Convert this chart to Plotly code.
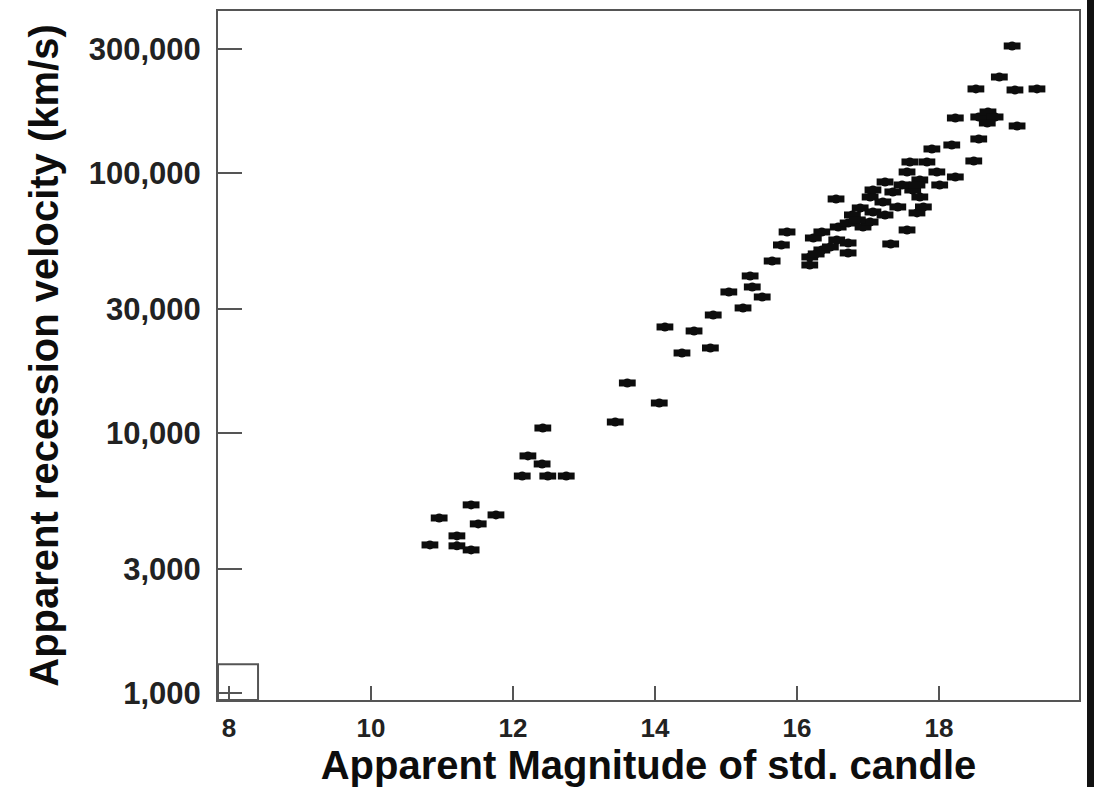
import plotly.graph_objects as go

# Apparent magnitude of the standard candle and apparent recession velocity (km/s)
magnitude = [
    10.83, 10.96, 11.21, 11.21, 11.41, 11.41, 11.51, 11.76,
    12.13, 12.21, 12.41, 12.42, 12.49, 12.75,
    13.44, 13.61, 14.06, 14.14, 14.38, 14.55, 14.78, 14.82, 15.04, 15.24,
    15.34, 15.37, 15.51, 15.65, 15.78, 15.86,
    16.18, 16.18, 16.23, 16.35, 16.35, 16.47, 16.55, 16.56, 16.58, 16.72,
    16.72, 16.72, 16.78, 16.89, 16.93, 17.03, 17.07, 17.03, 17.07, 17.21,
    17.24, 17.24, 17.35, 17.42, 17.32, 17.55, 17.69, 17.78, 17.55, 17.59,
    17.63, 17.73, 17.73, 17.83, 17.97, 18.01, 18.23, 17.90, 18.18, 18.49,
    18.23, 18.56, 18.56, 18.69, 18.79, 18.68, 19.10, 18.52, 18.85, 19.07,
    19.38, 19.03,
    16.27, 16.85, 17.48, 17.69,
]
velocity = [
    3710, 4710, 4020, 3680, 3550, 5290, 4470, 4840,
    6830, 8160, 7600, 10450, 6830, 6830,
    11020, 15570, 13040, 25570, 20310, 24680, 21230, 28430, 34860, 30260,
    40170, 36440, 33350, 45860, 52860, 59310,
    44270, 47530, 56230, 59310, 50560, 51930, 79430, 55240, 61980, 64200,
    53800, 49250, 68940, 73360, 61980, 64770, 70790, 80850, 86020, 77350,
    68940, 92350, 84520, 74010, 53330, 60370, 70200, 74010, 100890, 110240,
    86020, 94000, 80850, 110240, 100890, 89920, 96520, 123690, 128130, 111220,
    162750, 135130, 164200, 171630, 164200, 155690, 151620, 210490, 233960, 208590,
    210490, 307900,
    48820, 65960, 89920, 89920,
]

x_ticks = [8, 10, 12, 14, 16, 18]
y_ticks = [1000, 3000, 10000, 30000, 100000, 300000]
y_tick_text = ["1,000", "3,000", "10,000", "30,000", "100,000", "300,000"]

FONT = "Liberation Sans, Arial, Helvetica, sans-serif"
AXIS_GREY = "#555555"
INK = "#0d0d0d"

fig = go.Figure()

# Each point is drawn as a small horizontal blob: a round core plus a wide bar
fig.add_trace(go.Scatter(
    x=magnitude, y=velocity, mode="markers",
    marker=dict(symbol="circle", size=9, color=INK, line=dict(width=0)),
    hoverinfo="skip", showlegend=False,
))
fig.add_trace(go.Scatter(
    x=magnitude, y=velocity, mode="markers",
    marker=dict(symbol="line-ew", size=12, color=INK, line=dict(width=7, color=INK)),
    showlegend=False,
))

fig.update_xaxes(
    range=[7.845, 19.972],
    tickvals=x_ticks,
    ticks="inside", ticklen=14, tickwidth=2, tickcolor=AXIS_GREY,
    showline=True, linecolor=AXIS_GREY, linewidth=2, mirror=True,
    showgrid=False, zeroline=False,
    tickfont=dict(family=FONT, size=26, color="#222222", weight="bold"),
    ticklabelstandoff=4,
    title=dict(text="Apparent Magnitude of std. candle",
               font=dict(family=FONT, size=40, color=INK, weight="bold"),
               standoff=0),
    automargin=False,
)
fig.update_yaxes(
    type="log",
    range=[2.973, 5.623],
    tickvals=y_ticks, ticktext=y_tick_text,
    ticks="inside", ticklen=24, tickwidth=2, tickcolor=AXIS_GREY,
    showline=True, linecolor=AXIS_GREY, linewidth=2, mirror=True,
    showgrid=False, zeroline=False,
    tickfont=dict(family=FONT, size=31, color="#222222", weight="bold"),
    ticklabelstandoff=9,
    title=dict(text="Apparent recession velocity (km/s)",
               font=dict(family=FONT, size=40, color=INK, weight="bold"),
               standoff=18),
    automargin=False,
)

# Small open box in the lower-left corner of the frame
fig.add_shape(type="rect", xref="x domain", yref="y domain",
              x0=0, x1=0.0465, y0=0, y1=0.052,
              line=dict(color=AXIS_GREY, width=2), fillcolor="rgba(0,0,0,0)")
# Dark edge strip along the right-hand side
fig.add_shape(type="rect", xref="paper", yref="paper",
              x0=1.0093, x1=1.03, y0=-0.2, y1=1.1,
              line=dict(width=0), fillcolor="#111111", layer="above")

fig.update_layout(
    width=1094, height=787,
    margin=dict(l=218, r=15, t=11, b=87),
    paper_bgcolor="white", plot_bgcolor="white",
    showlegend=False,
)

fig.write_html("out.html")
